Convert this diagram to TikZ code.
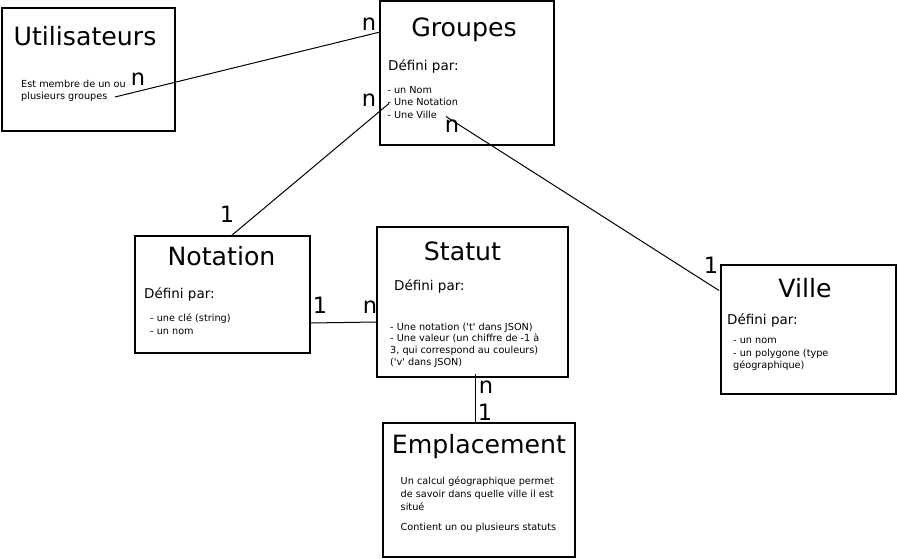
\documentclass[tikz,border=0pt]{standalone}
\usepackage{fontspec}
\setmainfont{DejaVu Sans}
\newcommand{\sq}{\textquotesingle}
\begin{document}
\begin{tikzpicture}[x=1pt,y=-1pt,
  box/.style={draw=black, line width=2.2pt, inner sep=0pt},
  ttl/.style={font=\fontsize{25.2}{29}\selectfont, anchor=base, inner sep=0pt},
  sub/.style={font=\fontsize{13.5}{16}\selectfont, anchor=base west, inner sep=0pt},
  txt/.style={font=\fontsize{9.7}{12}\selectfont, anchor=base west, inner sep=0pt},
  card/.style={font=\fontsize{22.5}{26}\selectfont, anchor=base, inner sep=0pt},
  link/.style={draw=black, line width=1pt}]
\useasboundingbox (0,0) rectangle (897,559);
\fill[white] (0,0) rectangle (897,559);

% boxes
\node[box, minimum width=173pt, minimum height=123pt] (util) at (88.5,69.5) {};
\node[box, minimum width=174pt, minimum height=144pt] (grp) at (467,73) {};
\node[box, minimum width=175pt, minimum height=117pt] (nota) at (222.5,294.5) {};
\node[box, minimum width=191pt, minimum height=150pt] (stat) at (472.5,302) {};
\node[box, minimum width=192pt, minimum height=134pt] (empl) at (479,490) {};
\node[box, minimum width=175pt, minimum height=129pt] (ville) at (808.5,329.5) {};

% titles
\node[ttl] (tU) at (85,46) {Utilisateurs};
\node[ttl] (tG) at (464,37) {Groupes};
\node[ttl] (tN) at (221.5,265) {Notation};
\node[ttl] (tS) at (462.5,260) {Statut};
\node[ttl] (tE) at (479,453) {Emplacement};
\node[ttl] (tV) at (805,297) {Ville};

% Utilisateurs text
\node[txt] (u1) at (21,87.3) {Est membre de un ou};
\node[txt] (u2) at (21,100) {plusieurs groupes};

% Groupes text
\node[sub] (g0) at (388,71) {Défini par:};
\node[txt] (g1) at (387.3,93.7) {- un Nom};
\node[txt] (g2) at (387.3,106) {- Une Notation};
\node[txt] (g3) at (387.3,118.3) {- Une Ville};

% Notation text
\node[sub] (n0) at (144,298) {Défini par:};
\node[txt] (n1) at (150,321.7) {- une clé (string)};
\node[txt] (n2) at (150,334) {- un nom};

% Statut text
\node[sub] (s0) at (394,290) {Défini par:};
\node[txt] (s1) at (390,330) {- Une notation (\sq t\sq{} dans JSON)};
\node[txt] (s2) at (390,341.8) {- Une valeur (un chiffre de -1 à};
\node[txt] (s3) at (390,353.8) {3, qui correspond au couleurs)};
\node[txt] (s4) at (390,365.8) {(\sq v\sq{} dans JSON)};

% Emplacement text
\node[txt] (e1) at (400.5,484) {Un calcul géographique permet};
\node[txt] (e2) at (400.5,497) {de savoir dans quelle ville il est};
\node[txt] (e3) at (400.5,510) {situé};
\node[txt] (e4) at (400.5,530) {Contient un ou plusieurs statuts};

% Ville text
\node[sub] (v0) at (727,324) {Défini par:};
\node[txt] (v1) at (733,343.3) {- un nom};
\node[txt] (v2) at (733,356) {- un polygone (type};
\node[txt] (v3) at (733,368.3) {géographique)};

% connector end points
\coordinate (cU) at (115,97);
\coordinate (cGu) at (380,32);
\coordinate (cGn) at (389,103.5);
\coordinate (cN) at (231,236);
\coordinate (cGv) at (446,116.5);
\coordinate (cV) at (719,290.5);
\coordinate (cNs) at (310,323);
\coordinate (cSn) at (377,322);
\coordinate (cSe) at (475,374);
\coordinate (cEs) at (475,423);

% connectors
\draw[link] (cU) -- (cGu);
\draw[link] (cN) -- (cGn);
\draw[link] (cGv) -- (cV);
\draw[link] (cNs) -- (cSn);
\draw[link] (cSe) -- (cEs);

% cardinalities
\node[card] (k1) at (369,31) {n};
\node[card] (k2) at (138,86) {n};
\node[card] (k3) at (369,107) {n};
\node[card] (k4) at (452,133) {n};
\node[card] (k5) at (227,222) {1};
\node[card] (k6) at (320,313) {1};
\node[card] (k7) at (370,313) {n};
\node[card] (k8) at (711,273) {1};
\node[card] (k9) at (486,393) {n};
\node[card] (k10) at (485,420) {1};
\end{tikzpicture}
\end{document}
